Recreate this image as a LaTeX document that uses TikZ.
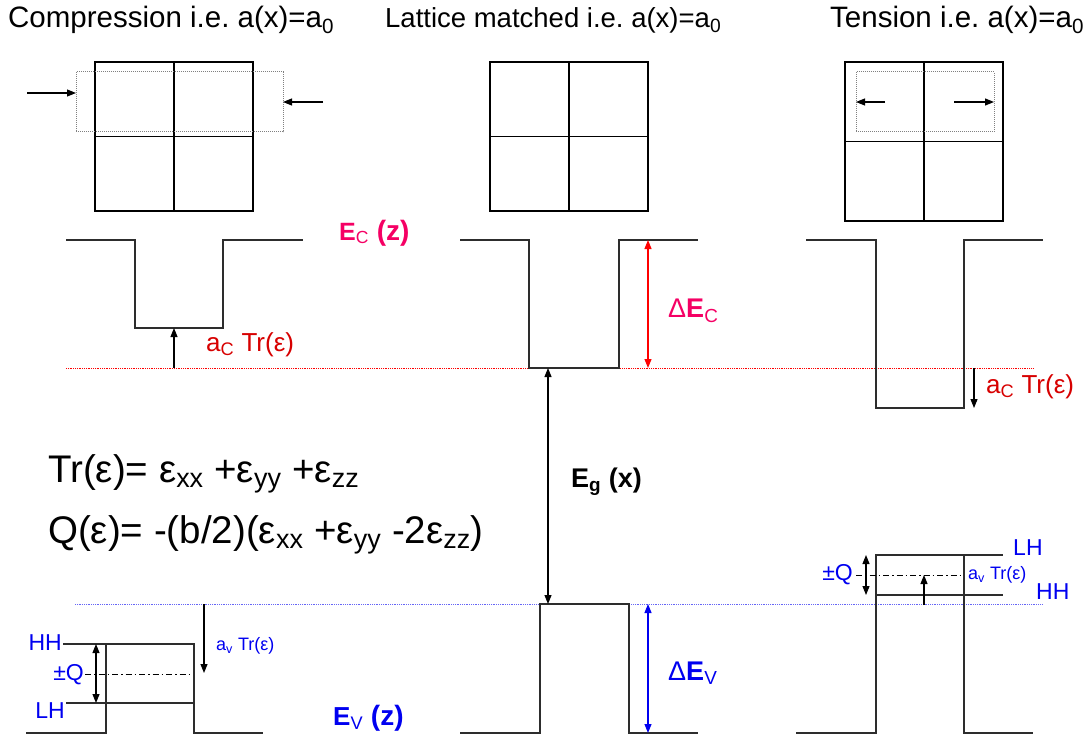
\documentclass[tikz,border=0pt]{standalone}
\usepackage{fontspec}
\setmainfont{Liberation Sans}
\usetikzlibrary{arrows.meta, calc}

\definecolor{ecpink}{RGB}{245,0,100}
\definecolor{acred}{RGB}{215,0,0}
\definecolor{evblue}{RGB}{0,0,240}
\definecolor{bandgray}{RGB}{45,45,45}

\newcommand{\fsz}[1]{\fontsize{#1}{#1}\selectfont}
\frenchspacing

\begin{document}
\begin{tikzpicture}[x=1pt, y=-1pt,
    band/.style={line width=1.4pt, bandgray},
    cell/.style={line width=1.3pt, black},
    shrunk/.style={line width=1pt, gray, densely dotted},
    onearrow/.style={-{Triangle[length=9pt,width=7pt]}, line width=1.1pt, black},
    twoarrow/.style={{Triangle[length=9pt,width=7pt]}-{Triangle[length=9pt,width=7pt]}, line width=1.1pt},
    dashdot/.style={line width=0.8pt, dash pattern=on 6pt off 3pt on 1.5pt off 3pt},
    title/.style={font=\fsz{29.5}, anchor=base west, inner sep=0pt},
    formula/.style={font=\fsz{38.5}, anchor=base west, inner sep=0pt},
    holename/.style={font=\fsz{23}, text=evblue, inner sep=0pt},
    aclabel/.style={font=\fsz{26}, text=acred, inner sep=0pt, anchor=west},
    avlabel/.style={font=\fsz{18}, text=evblue, inner sep=0pt, anchor=west}]
  \useasboundingbox (0,0) rectangle (1086,738);

  % Lattice macro
  \newcommand{\latticegrid}[4]{
    % #1,#2: top left corner, #3,#4: bottom right corner
    \draw[cell] (#1,#2) rectangle (#3,#4);
    \draw[cell] ({(#1+#3)/2},#2) -- ({(#1+#3)/2},#4);
    \draw[cell] (#1,{(#2+#4)/2}) -- (#3,{(#2+#4)/2});
  }

  % Titles
  \node[title] (tcomp) at (8,28) {Compression i.e. a(x)=a\textsubscript{0}};
  \node[title, font=\fsz{27.5}] (tmatch) at (385,28) {Lattice matched i.e. a(x)=a\textsubscript{0}};
  \node[title] (ttens) at (830,28) {Tension i.e. a(x)=a\textsubscript{0}};

  % Unit cells
  \latticegrid{95}{62}{253}{211}
  \latticegrid{490}{62}{648}{211}
  \latticegrid{845}{62}{1003}{221}
  \draw[shrunk] (76,72) rectangle (283,132);
  \draw[shrunk] (856,72) rectangle (994,132);

  \coordinate (pushl) at (27,93);   \coordinate (pushlend) at (76,93);
  \coordinate (pushr) at (323,102); \coordinate (pushrend) at (283,102);
  \coordinate (pulll) at (885,102); \coordinate (pulllend) at (856,102);
  \coordinate (pullr) at (954,102); \coordinate (pullrend) at (994,102);
  \draw[onearrow] (pushl) -- (pushlend);
  \draw[onearrow] (pushr) -- (pushrend);
  \draw[onearrow] (pulll) -- (pulllend);
  \draw[onearrow] (pullr) -- (pullrend);

  % Conduction band profiles
  \draw[red, line width=0.8pt, densely dotted] (66,368) -- (1034,368);
  \draw[band] (66,240) -- (135,240) -- (135,328) -- (223,328) -- (223,240) -- (303,240);
  \draw[band] (460,240) -- (529,240) -- (529,368) -- (619,368) -- (619,240) -- (698,240);
  \draw[band] (806,240) -- (876,240) -- (876,408) -- (964,408) -- (964,240) -- (1043,240);

  % Valence band profiles
  \draw[evblue!60, line width=0.8pt, densely dotted] (75,604) -- (1043,604);
  \draw[band] (26,733) -- (106,733) -- (106,644) -- (194,644) -- (194,733) -- (263,733);
  \draw[band] (460,733) -- (540,733) -- (540,604) -- (629,604) -- (629,733) -- (698,733);
  \draw[band] (796,733) -- (876,733) -- (876,555) -- (964,555) -- (964,733) -- (1033,733);

  % Heavy and light hole levels
  \draw[band] (63,644) -- (106,644);
  \draw[band] (66,703) -- (194,703);
  \draw[band] (964,555) -- (1003,555);
  \draw[band] (876,595) -- (1003,595);
  \draw[dashdot] (85,674) -- (192,674);
  \draw[dashdot] (856,575) -- (961,575);

  % Shifts and offsets
  \coordinate (accomp) at (174,368);  \coordinate (accompend) at (174,328);
  \coordinate (actens) at (974,368);  \coordinate (actensend) at (974,408);
  \coordinate (avcomp) at (204,604);  \coordinate (avcompend) at (204,673);
  \coordinate (avtens) at (924,605);  \coordinate (avtensend) at (924,575);
  \coordinate (gaptop) at (548,368);  \coordinate (gapbot) at (548,604);
  \coordinate (dectop) at (648,240);  \coordinate (decbot) at (648,368);
  \coordinate (devtop) at (648,604);  \coordinate (devbot) at (648,733);
  \coordinate (qcomptop) at (96,644); \coordinate (qcompbot) at (96,703);
  \coordinate (qtenstop) at (866,555); \coordinate (qtensbot) at (866,595);

  \draw[onearrow] (accomp) -- (accompend);
  \draw[onearrow] (actens) -- (actensend);
  \draw[onearrow] (avcomp) -- (avcompend);
  \draw[onearrow] (avtens) -- (avtensend);
  \draw[twoarrow, black] (gaptop) -- (gapbot);
  \draw[twoarrow, red] (dectop) -- (decbot);
  \draw[twoarrow, evblue] (devtop) -- (devbot);
  \draw[twoarrow, black] (qcomptop) -- (qcompbot);
  \draw[twoarrow, black] (qtenstop) -- (qtensbot);

  % Labels
  \node[aclabel] (accompl) at (206,345) {a\textsubscript{C} Tr(ε)};
  \node[aclabel] (actensl) at (986,387) {a\textsubscript{C} Tr(ε)};
  \node[avlabel] (avcompl) at (216,646) {a\textsubscript{v} Tr(ε)};
  \node[avlabel] (avtensl) at (968,575) {a\textsubscript{v} Tr(ε)};
  \node[anchor=west, inner sep=0pt, text=ecpink] (ecname) at (339,233)
    {\bfseries\fsz{25}E\textsubscript{\mdseries C}\fsz{28} (z)};
  \node[anchor=west, inner sep=0pt, text=evblue] (evname) at (333,718)
    {\bfseries\fsz{26}E\textsubscript{\mdseries V}\fsz{28} (z)};
  \node[anchor=west, inner sep=0pt, text=ecpink, font=\fsz{27}] (decl) at (668,311)
    {Δ\textbf{E}\textsubscript{C}};
  \node[anchor=west, inner sep=0pt, text=evblue, font=\fsz{27}] (devl) at (668,673)
    {Δ\textbf{E}\textsubscript{V}};
  \node[anchor=west, inner sep=0pt, font=\fsz{27}] (egl) at (571,482)
    {\bfseries E\textsubscript{g} (x)};
  \node[holename, anchor=east] (hhcomp) at (62,643) {HH};
  \node[holename, anchor=east] (lhcomp) at (65,711) {LH};
  \node[holename, anchor=east] (qcomp) at (84,675) {±Q};
  \node[holename, anchor=west] (lhtens) at (1013,548) {LH};
  \node[holename, anchor=west] (hhtens) at (1036,592) {HH};
  \node[holename, anchor=east] (qtens) at (853,575) {±Q};

  % Strain relations
  \node[formula] (treq) at (48,482)
    {Tr(ε)= ε\textsubscript{xx} +ε\textsubscript{yy} +ε\textsubscript{zz}};
  \node[formula] (qeq) at (48,543)
    {Q(ε)= -(b/2)(ε\textsubscript{xx} +ε\textsubscript{yy} -2ε\textsubscript{zz})};
\end{tikzpicture}
\end{document}
